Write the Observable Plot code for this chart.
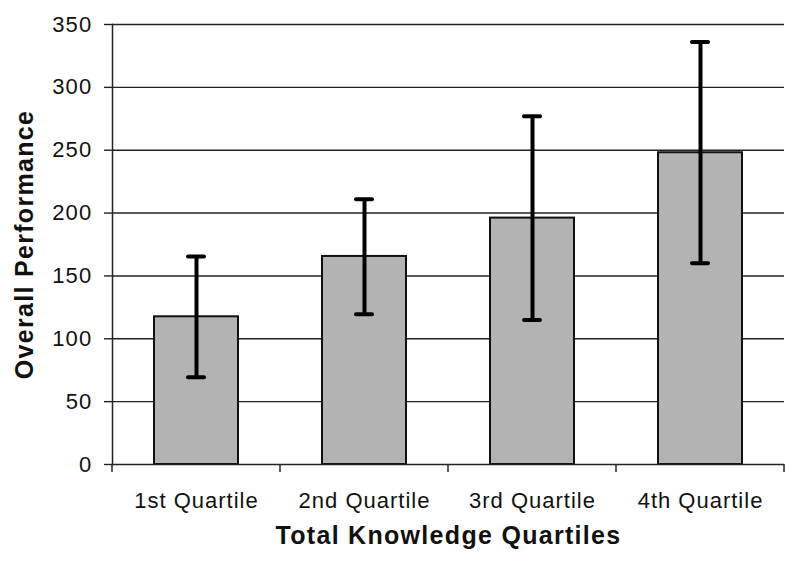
<!DOCTYPE html>
<html><head><meta charset="utf-8">
<script src="https://cdn.jsdelivr.net/npm/d3@7"></script>
<script src="https://cdn.jsdelivr.net/npm/@observablehq/plot@0.6"></script>
<style>body{margin:0;background:#fff;} svg{font-family:"Liberation Sans",Arial,sans-serif;}</style>
</head><body><div id="chart"></div>
<script>
const categories = ["1st Quartile", "2nd Quartile", "3rd Quartile", "4th Quartile"];
const means = [117.5, 165.5, 196, 248];
const upper = [165.5, 211, 277, 336];
const lower = [69.5, 119.5, 115, 160];
const yTicks = [0, 50, 100, 150, 200, 250, 300, 350];

const data = categories.map((q, i) => ({q, mean: means[i], hi: upper[i], lo: lower[i]}));

const boundaryTicks = (index, scales, values, dim) => {
  const g = d3.create("svg:g");
  const n = categories.length;
  const cell = (dim.width - dim.marginLeft - dim.marginRight) / n;
  const y0 = dim.height - dim.marginBottom;
  for (let i = 0; i <= n; i++) {
    const x = dim.marginLeft + i * cell;
    g.append("line").attr("x1", x).attr("x2", x).attr("y1", y0).attr("y2", y0 + 8)
      .attr("stroke", "#222").attr("stroke-width", 1.5);
  }
  return g.node();
};

const chart = Plot.plot({
  width: 800, height: 569,
  marginLeft: 112, marginRight: 16, marginTop: 24, marginBottom: 105,
  style: {fontFamily: "Liberation Sans, Arial, sans-serif", background: "white"},
  x: {domain: categories, paddingInner: 0.5, paddingOuter: 0.25},
  y: {domain: [0, 350]},
  marks: [
    Plot.ruleY(yTicks.filter(d => d > 0), {stroke: "#222", strokeWidth: 1.4}),
    Plot.barY(data, {x: "q", y: "mean", fill: "#b3b3b3", stroke: "#111", strokeWidth: 2}),
    Plot.ruleX(data, {x: "q", y1: "lo", y2: "hi", stroke: "black", strokeWidth: 4}),
    Plot.tickY(data, {x: "q", y: "hi", stroke: "black", strokeWidth: 4, strokeLinecap: "round", insetLeft: 34, insetRight: 34}),
    Plot.tickY(data, {x: "q", y: "lo", stroke: "black", strokeWidth: 4, strokeLinecap: "round", insetLeft: 34, insetRight: 34}),
    Plot.ruleY([0], {stroke: "#222", strokeWidth: 1.5}),
    Plot.frame({anchor: "left", stroke: "#222", strokeWidth: 1.5}),
    boundaryTicks,
    Plot.axisY({ticks: yTicks, tickSize: 8, tickPadding: 12, stroke: "#222", strokeWidth: 1.4, label: null}),
    Plot.axisX({tickSize: 0, tickPadding: 28, label: null}),
    Plot.text(["Overall Performance"], {frameAnchor: "left", textAnchor: "middle", rotate: -90, dx: -88, fontSize: 25, fontWeight: "bold", fill: "#111"}),
    Plot.text(["Total Knowledge Quartiles"], {frameAnchor: "bottom", dy: 79, fontSize: 25, fontWeight: "bold", fill: "#111"})
  ]
});
const s = d3.select(chart);
s.selectAll("g[aria-label='y-axis tick label'] text").style("font-size", "22px").style("letter-spacing", "1.2px").attr("fill", "#111");
s.selectAll("g[aria-label='x-axis tick label'] text").style("font-size", "22px").style("letter-spacing", "1px").attr("fill", "#111");
s.selectAll("g[aria-label='text'] text").style("letter-spacing", "1.3px");
document.getElementById("chart").appendChild(chart);
</script></body></html>
